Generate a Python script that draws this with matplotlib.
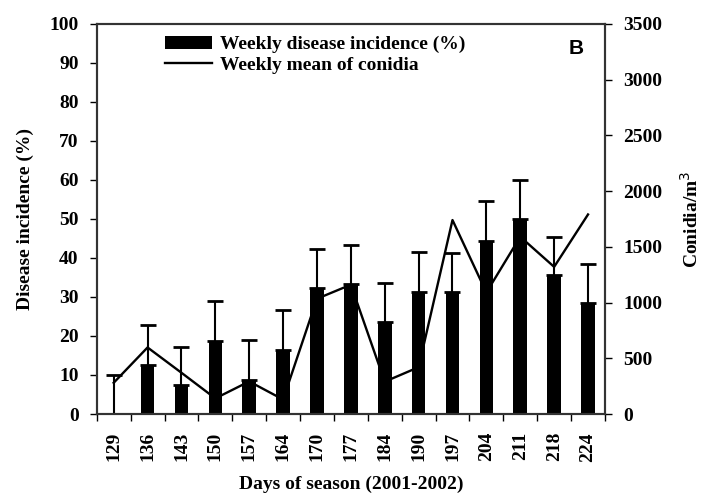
import numpy as np
import matplotlib
matplotlib.use("Agg")
import matplotlib.pyplot as plt

# Dias da temporada e valores
days = ["129", "136", "143", "150", "157", "164", "170", "177",
        "184", "190", "197", "204", "211", "218", "224"]
incidence = [0, 12.6, 7.5, 18.6, 8.8, 16.5, 32.3, 33.2,
             23.7, 31.3, 31.3, 44.4, 50.0, 35.5, 28.5]
incidence_err = [10, 10.3, 9.8, 10.3, 10.2, 10.1, 10.1, 10.0,
                 10.0, 10.1, 10.0, 10.1, 10.0, 9.9, 10.0]
conidia = [280, 597, 370, 140, 292, 130, 1034, 1160,
           290, 420, 1740, 1090, 1590, 1320, 1790]

serif = "Liberation Serif"
fs = 14

fig = plt.figure(figsize=(7.01, 4.97), dpi=100)
ax = fig.add_axes([0.138, 0.167, 0.725, 0.785])
x = np.arange(len(days))

ax.bar(x, incidence, width=0.4, color="black",
       label="Weekly disease incidence (%)", zorder=2)
ax.errorbar(x, incidence, yerr=[np.zeros(len(x)), incidence_err], fmt="none",
            ecolor="black", elinewidth=1.5, capsize=6, capthick=2, zorder=2)

ax2 = ax.twinx()
ax2.plot(x, conidia, color="black", lw=1.7, label="Weekly mean of conidia")

ax.set_xlim(-0.5, len(x) - 0.5)
ax.set_ylim(0, 100)
ax2.set_ylim(0, 3500)
ax.set_yticks(np.arange(0, 101, 10))
ax2.set_yticks(np.arange(0, 3501, 500))

ax.set_xticks(x)
ax.set_xticklabels(days, rotation=90, fontfamily=serif, fontweight="bold", fontsize=fs)
ax.set_xticks(np.arange(-0.5, len(x)), minor=True)
ax.tick_params(axis="x", which="major", length=0, pad=13)
ax.tick_params(axis="x", which="minor", length=5, width=1, direction="out")
ax.tick_params(axis="y", length=5, width=1, direction="out", pad=8)
ax2.tick_params(axis="y", length=5, width=1, direction="out", pad=8)

for lbl in ax.get_yticklabels() + ax2.get_yticklabels():
    lbl.set_fontfamily(serif)
    lbl.set_fontweight("bold")
    lbl.set_fontsize(fs)

for a in (ax, ax2):
    for sp in a.spines.values():
        sp.set_linewidth(1.5)
        sp.set_color("#333333")

ax.set_xlabel("Days of season (2001-2002)", fontfamily=serif, fontweight="bold",
              fontsize=fs, labelpad=10)
ax.set_ylabel("Disease incidence (%)", fontfamily=serif, fontweight="bold",
              fontsize=fs, labelpad=11)
ax2.set_ylabel("Conidia/m$^3$", fontfamily=serif, fontweight="bold",
               fontsize=fs, labelpad=13)

ax.text(0.959, 0.962, "B", transform=ax.transAxes, ha="right", va="top",
        fontfamily="Liberation Sans", fontweight="bold", fontsize=15)

h1, l1 = ax.get_legend_handles_labels()
h2, l2 = ax2.get_legend_handles_labels()
ax2.legend(h1 + h2, l1 + l2, loc="upper left", bbox_to_anchor=(0.1, 1.015),
           frameon=False, handlelength=2.4, handletextpad=0.4, labelspacing=0.15,
           prop={"family": serif, "weight": "bold", "size": 14})

plt.savefig("out.png", dpi=100)
